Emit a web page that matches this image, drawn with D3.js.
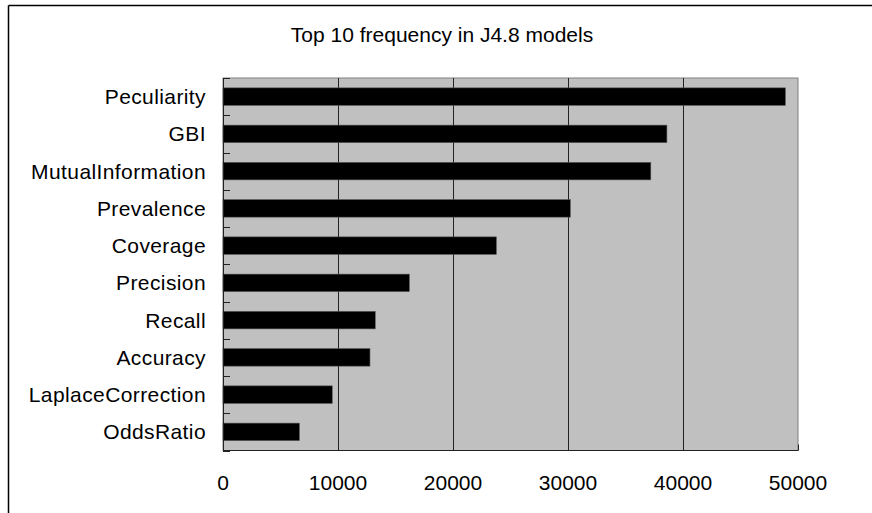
<!DOCTYPE html>
<html><head><meta charset="utf-8">
<script src="https://cdn.jsdelivr.net/npm/d3@7"></script>
<style>body{margin:0;background:#fff}svg{display:block}text{font-family:"Liberation Sans",Arial,sans-serif;fill:#000}</style>
</head><body>
<script>
const categories = ["Peculiarity","GBI","MutualInformation","Prevalence","Coverage","Precision","Recall","Accuracy","LaplaceCorrection","OddsRatio"];
const values = [48900,38600,37200,30200,23770,16200,13240,12780,9500,6640];
const xTicks = [0,10000,20000,30000,40000,50000];
const title = "Top 10 frequency in J4.8 models";

const W=872,H=513;
const svg=d3.select("body").append("svg").attr("width",W).attr("height",H);
svg.append("rect").attr("width",W).attr("height",H).attr("fill","#fff");
// outer frame
svg.append("line").attr("x1",8.5).attr("x2",8.5).attr("y1",5.5).attr("y2",H).attr("stroke","#000").attr("stroke-width",1.5);
svg.append("line").attr("x1",8.5).attr("x2",W).attr("y1",5.5).attr("y2",5.5).attr("stroke","#000").attr("stroke-width",1.5);

const L=223,R=798,T=78,B=450.5;
const x=d3.scaleLinear().domain([0,50000]).range([L,R]);
const y=d3.scaleBand().domain(categories).range([T,B]).paddingInner(0.53).paddingOuter(0.265);
const step=(B-T)/categories.length;

svg.append("rect").attr("x",L).attr("y",T).attr("width",R-L).attr("height",B-T).attr("fill","#c0c0c0").attr("stroke","#808080").attr("stroke-width",1);
// gridlines
svg.append("g").selectAll("line").data(xTicks.slice(1,-1)).join("line")
 .attr("x1",d=>Math.round(x(d))+0.5).attr("x2",d=>Math.round(x(d))+0.5).attr("y1",T).attr("y2",B)
 .attr("stroke","#222").attr("stroke-width",1);
// bars
svg.append("g").selectAll("rect").data(categories).join("rect")
 .attr("x",L).attr("y",d=>y(d)).attr("width",(d,i)=>x(values[i])-L).attr("height",y.bandwidth())
 .attr("fill","#000").attr("stroke","#555").attr("stroke-width",0.6);
// y axis ticks (inward)
const bounds=d3.range(categories.length+1).map(i=>T+i*step);
svg.append("g").selectAll("line").data(bounds).join("line")
 .attr("x1",L).attr("x2",L+7).attr("y1",d=>Math.round(d)+0.5).attr("y2",d=>Math.round(d)+0.5).attr("stroke","#222");
svg.append("line").attr("x1",L+0.5).attr("x2",L+0.5).attr("y1",T).attr("y2",B).attr("stroke","#222");
// x axis
svg.append("line").attr("x1",L).attr("x2",R).attr("y1",B).attr("y2",B).attr("stroke","#222").attr("stroke-width",1.2);
svg.append("g").selectAll("line").data(xTicks).join("line")
 .attr("x1",d=>Math.round(x(d))+0.5).attr("x2",d=>Math.round(x(d))+0.5).attr("y1",B).attr("y2",B-6).attr("stroke","#222");
svg.append("g").selectAll("text").data(xTicks).join("text")
 .attr("x",d=>x(d)).attr("y",490).attr("text-anchor","middle").attr("font-size",21).text(d=>d);
// category labels
svg.append("g").selectAll("text").data(categories).join("text")
 .attr("x",206).attr("y",d=>y(d)+y.bandwidth()/2+7.5).attr("text-anchor","end").attr("font-size",21)
 .attr("letter-spacing",0.4).text(d=>d);
// title
svg.append("text").attr("x",442).attr("y",41.5).attr("text-anchor","middle").attr("font-size",21).text(title);
</script>
</body></html>
